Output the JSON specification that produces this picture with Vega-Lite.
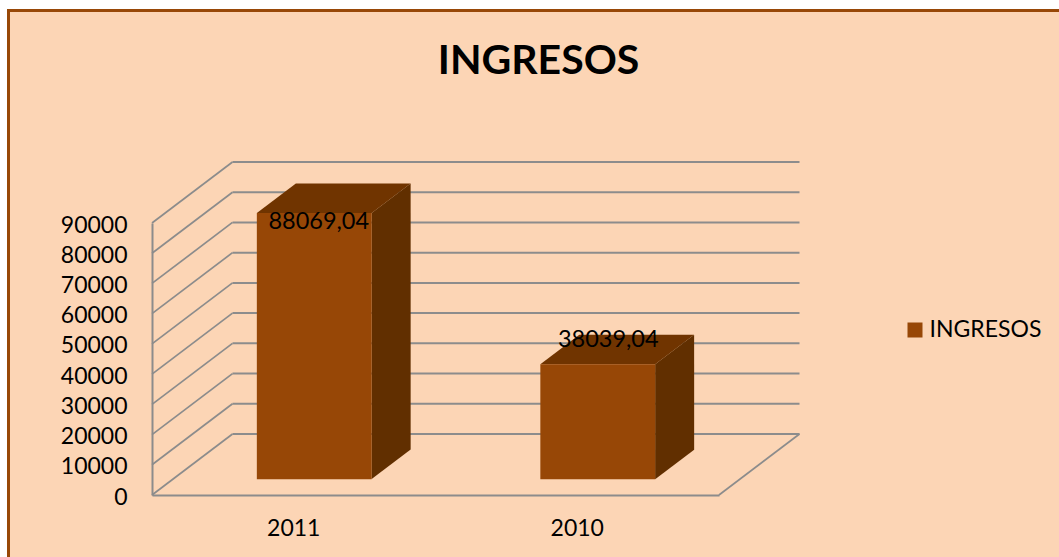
{
  "$schema": "https://vega.github.io/schema/vega-lite/v6.json",
  "width": 1055,
  "height": 550,
  "autosize": "none",
  "padding": {"left": 8.5, "top": 10.5, "right": 0, "bottom": 0},
  "background": "#ffffff",
  "view": {"fill": "#FCD5B5", "stroke": "#984807", "strokeWidth": 3},
  "title": {"text": "INGRESOS", "font": "Lato", "fontWeight": "bold", "fontSize": 41, "color": "#000000", "anchor": "start", "align": "center", "dx": 530, "offset": -72},
  "datasets": {
    "bars": [
      {"year": "2011", "value": 88069.04, "label": "88069,04", "serie": "INGRESOS"},
      {"year": "2010", "value": 38039.04, "label": "38039,04", "serie": "INGRESOS"}
    ],
    "ticks": [
      {"tick": 0}, {"tick": 10000}, {"tick": 20000}, {"tick": 30000}, {"tick": 40000},
      {"tick": 50000}, {"tick": 60000}, {"tick": 70000}, {"tick": 80000}, {"tick": 90000}
    ]
  },
  "resolve": {"scale": {"x": "independent"}, "axis": {"x": "independent"}},
  "layer": [
    {
      "data": {"name": "ticks"},
      "mark": {"type": "rule", "color": "#8C8C8C", "strokeWidth": 2, "yOffset": -61},
      "encoding": {
        "x": {"datum": 80.5, "type": "quantitative", "scale": {"domain": [0, 567], "range": [143.5, 710.5]}, "axis": null},
        "x2": {"datum": 647.5},
        "y": {"field": "tick", "type": "quantitative", "scale": {"domain": [0, 90000], "range": [484.5, 212.5], "nice": false},
          "axis": {"orient": "left", "offset": -143.5, "values": [0,10000,20000,30000,40000,50000,60000,70000,80000,90000], "format": "d", "title": null, "grid": false, "ticks": false, "labelPadding": 25, "labelFont": "Lato", "labelFontSize": 23, "labelColor": "#000000", "labelOffset": 2, "domainColor": "#8C8C8C", "domainWidth": 2, "labelOverlap": false}}
      }
    },
    {
      "data": {"name": "ticks"},
      "mark": {"type": "rule", "color": "#8C8C8C", "strokeWidth": 1.7, "y2Offset": -61},
      "encoding": {
        "x": {"datum": 0, "type": "quantitative", "scale": {"domain": [0, 567], "range": [143.5, 710.5]}, "axis": null},
        "x2": {"datum": 80.5},
        "y": {"field": "tick", "type": "quantitative"},
        "y2": {"field": "tick"}
      }
    },
    {
      "data": {"name": "ticks"},
      "transform": [{"filter": "datum.tick === 0"}],
      "mark": {"type": "rule", "color": "#8C8C8C", "strokeWidth": 1.7, "y2Offset": -61},
      "encoding": {
        "x": {"datum": 567, "type": "quantitative", "scale": {"domain": [0, 567], "range": [143.5, 710.5]}, "axis": null},
        "x2": {"datum": 647.5},
        "y": {"field": "tick", "type": "quantitative"},
        "y2": {"field": "tick"}
      }
    },
    {
      "data": {"name": "bars"},
      "mark": {"type": "point", "filled": true, "size": 4, "opacity": 1, "fill": "#703400", "strokeWidth": 0, "xOffset": 20.5, "yOffset": -15.8, "shape": "M-57.4,0L57.4,0L96.4,-29.5L-18.4,-29.5Z"},
      "encoding": {
        "x": {"field": "year", "type": "nominal", "scale": {"type": "band", "domain": ["2011", "2010"], "range": [143.5, 710.5], "paddingInner": 0.595, "paddingOuter": 0.2975}, "axis": null},
        "y": {"field": "value", "type": "quantitative"}
      }
    },
    {
      "data": {"name": "bars"},
      "mark": {"type": "point", "filled": true, "size": 4, "opacity": 1, "fill": "#612F00", "strokeWidth": 0, "xOffset": 20.5, "yOffset": -15.8},
      "encoding": {
        "x": {"field": "year", "type": "nominal", "scale": {"type": "band", "domain": ["2011", "2010"], "range": [143.5, 710.5], "paddingInner": 0.595, "paddingOuter": 0.2975}, "axis": null},
        "y": {"field": "value", "type": "quantitative"},
        "shape": {"field": "year", "type": "nominal", "legend": null, "scale": {"domain": ["2011", "2010"], "range": ["M57.4,0L96.4,-29.5L96.4,236.5L57.4,266Z", "M57.4,0L96.4,-29.5L96.4,85.5L57.4,115Z"]}}
      }
    },
    {
      "data": {"name": "bars"},
      "mark": {"type": "bar", "xOffset": 20.5, "yOffset": -15.8, "y2Offset": -15.8},
      "encoding": {
        "x": {"field": "year", "type": "nominal", "scale": {"type": "band", "domain": ["2011", "2010"], "range": [143.5, 710.5], "paddingInner": 0.595, "paddingOuter": 0.2975},
          "axis": {"orient": "bottom", "offset": -65.5, "title": null, "labelAngle": 0, "ticks": false, "labelPadding": 22, "labelFont": "Lato", "labelFontSize": 23, "labelColor": "#000000", "domainColor": "#8C8C8C", "domainWidth": 2}},
        "y": {"field": "value", "type": "quantitative"},
        "y2": {"datum": 0},
        "color": {"field": "serie", "type": "nominal", "scale": {"range": ["#974706"]},
          "legend": {"orient": "none", "legendX": 895, "legendY": 308, "title": null, "symbolType": "square", "symbolSize": 225, "symbolStrokeWidth": 0, "labelFont": "Lato", "labelFontSize": 23, "labelOffset": 3, "labelColor": "#000000"}}
      }
    },
    {
      "data": {"name": "bars"},
      "mark": {"type": "text", "font": "Lato", "fontSize": 23.5, "color": "#000000", "align": "center", "baseline": "middle", "xOffset": {"expr": "datum.year === '2011' ? 25 : 31"}, "yOffset": {"expr": "datum.year === '2011' ? -7 : -40"}},
      "encoding": {
        "x": {"field": "year", "type": "nominal", "scale": {"type": "band", "domain": ["2011", "2010"], "range": [143.5, 710.5], "paddingInner": 0.595, "paddingOuter": 0.2975}, "axis": null},
        "y": {"field": "value", "type": "quantitative"},
        "text": {"field": "label"}
      }
    }
  ]
}
